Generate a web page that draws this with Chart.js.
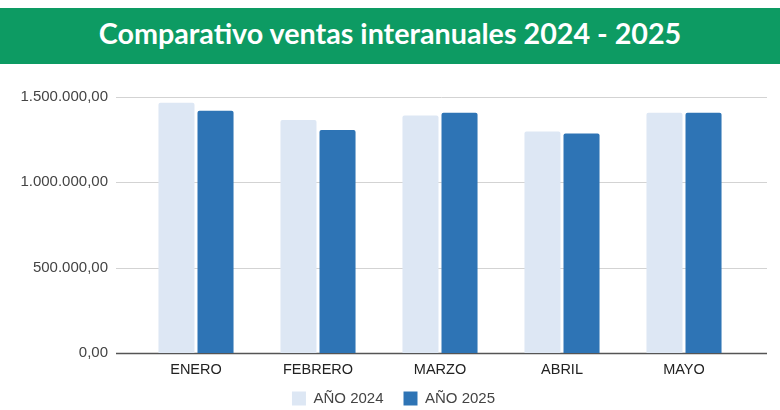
<!DOCTYPE html>
<html>
<head>
<meta charset="utf-8">
<script src="https://cdn.jsdelivr.net/npm/chart.js@4.4.1/dist/chart.umd.min.js"></script>
<style>
    html, body { margin: 0; padding: 0; background: #fff; overflow: hidden; }
    #wrap { position: relative; width: 780px; height: 410px; overflow: hidden; }
    #header {
        position: absolute; left: 0; top: 8px; width: 780px; height: 56px;
        box-sizing: border-box; padding-bottom: 6px;
        background: #0d9b63; color: #fff;
        font-family: Lato, "Open Sans", sans-serif; font-weight: 700; font-size: 28.7px;
        display: flex; align-items: center; justify-content: center;
        z-index: 2;
    }
    #salesChart { position: absolute; left: 0; top: 0; }
</style>
</head>
<body>
<div id="wrap">
    <div id="header">Comparativo ventas interanuales 2024 - 2025</div>
    <canvas id="salesChart" width="780" height="430"></canvas>
</div>
<script>
const months = ['ENERO', 'FEBRERO', 'MARZO', 'ABRIL', 'MAYO'];
const sales2024 = [1466000, 1365000, 1392000, 1298000, 1407000];
const sales2025 = [1419000, 1306000, 1408000, 1286000, 1407000];
const yTicks = [0, 500000, 1000000, 1500000];

// number format like 1.500.000,00
function formatEs(v) {
    const parts = v.toFixed(2).split('.');
    return parts[0].replace(/\B(?=(\d{3})+(?!\d))/g, '.') + ',' + parts[1];
}

// horizontal grid lines that run a bit past the bars on both sides
const wideGrid = {
    id: 'wideGrid',
    beforeDatasetsDraw(chart) {
        const { ctx, chartArea, scales } = chart;
        const left = chartArea.left - 19;
        const right = chartArea.right + 22;
        ctx.save();
        yTicks.forEach(function (t) {
            const y = Math.round(scales.y.getPixelForValue(t)) + 0.5;
            ctx.strokeStyle = t === 0 ? '#555555' : '#d3d3d3';
            ctx.lineWidth = t === 0 ? 1.3 : 1;
            ctx.beginPath();
            ctx.moveTo(left, y);
            ctx.lineTo(right, y);
            ctx.stroke();
        });
        ctx.restore();
    }
};

// nudge the legend up and right so it sits centred under the whole chart
const legendShift = {
    id: 'legendShift',
    afterLayout(chart) {
        const lg = chart.legend;
        if (!lg) return;
        lg.left += 21; lg.right += 21;
        lg.top -= 14; lg.bottom -= 14;
    }
};

const ctx = document.getElementById('salesChart').getContext('2d');
new Chart(ctx, {
    type: 'bar',
    data: {
        labels: months,
        datasets: [{
            label: 'AÑO 2024',
            data: sales2024,
            backgroundColor: '#dde7f4',
            borderRadius: { topLeft: 2, topRight: 2 },
            borderSkipped: 'bottom',
            barPercentage: 0.923,
            categoryPercentage: 0.64
        }, {
            label: 'AÑO 2025',
            data: sales2025,
            backgroundColor: '#2e74b5',
            borderRadius: { topLeft: 2, topRight: 2 },
            borderSkipped: 'bottom',
            barPercentage: 0.923,
            categoryPercentage: 0.64
        }]
    },
    options: {
        responsive: false,
        animation: false,
        layout: { padding: { top: 97, right: 35, bottom: 0, left: 0 } },
        scales: {
            x: {
                grid: { display: false, drawTicks: false },
                border: { display: false },
                ticks: { color: '#222', font: { family: 'Liberation Sans', size: 14.5 }, padding: 8 },
                afterFit: function (scale) { scale.height = 32; }
            },
            y: {
                min: 0,
                max: 1500000,
                grid: { display: false, drawTicks: false },
                border: { display: false },
                afterBuildTicks: function (scale) {
                    scale.ticks = yTicks.map(v => ({ value: v }));
                },
                afterFit: function (scale) { scale.width = 135; },
                ticks: {
                    color: '#444',
                    padding: 27,
                    font: { family: 'Liberation Sans', size: 15 },
                    callback: v => formatEs(v)
                }
            }
        },
        plugins: {
            legend: {
                position: 'bottom',
                labels: {
                    boxWidth: 14,
                    boxHeight: 14,
                    padding: 20,
                    color: '#444',
                    font: { family: 'Liberation Sans', size: 15 }
                }
            },
            tooltip: { enabled: false }
        }
    },
    plugins: [wideGrid, legendShift]
});
</script>
</body>
</html>
